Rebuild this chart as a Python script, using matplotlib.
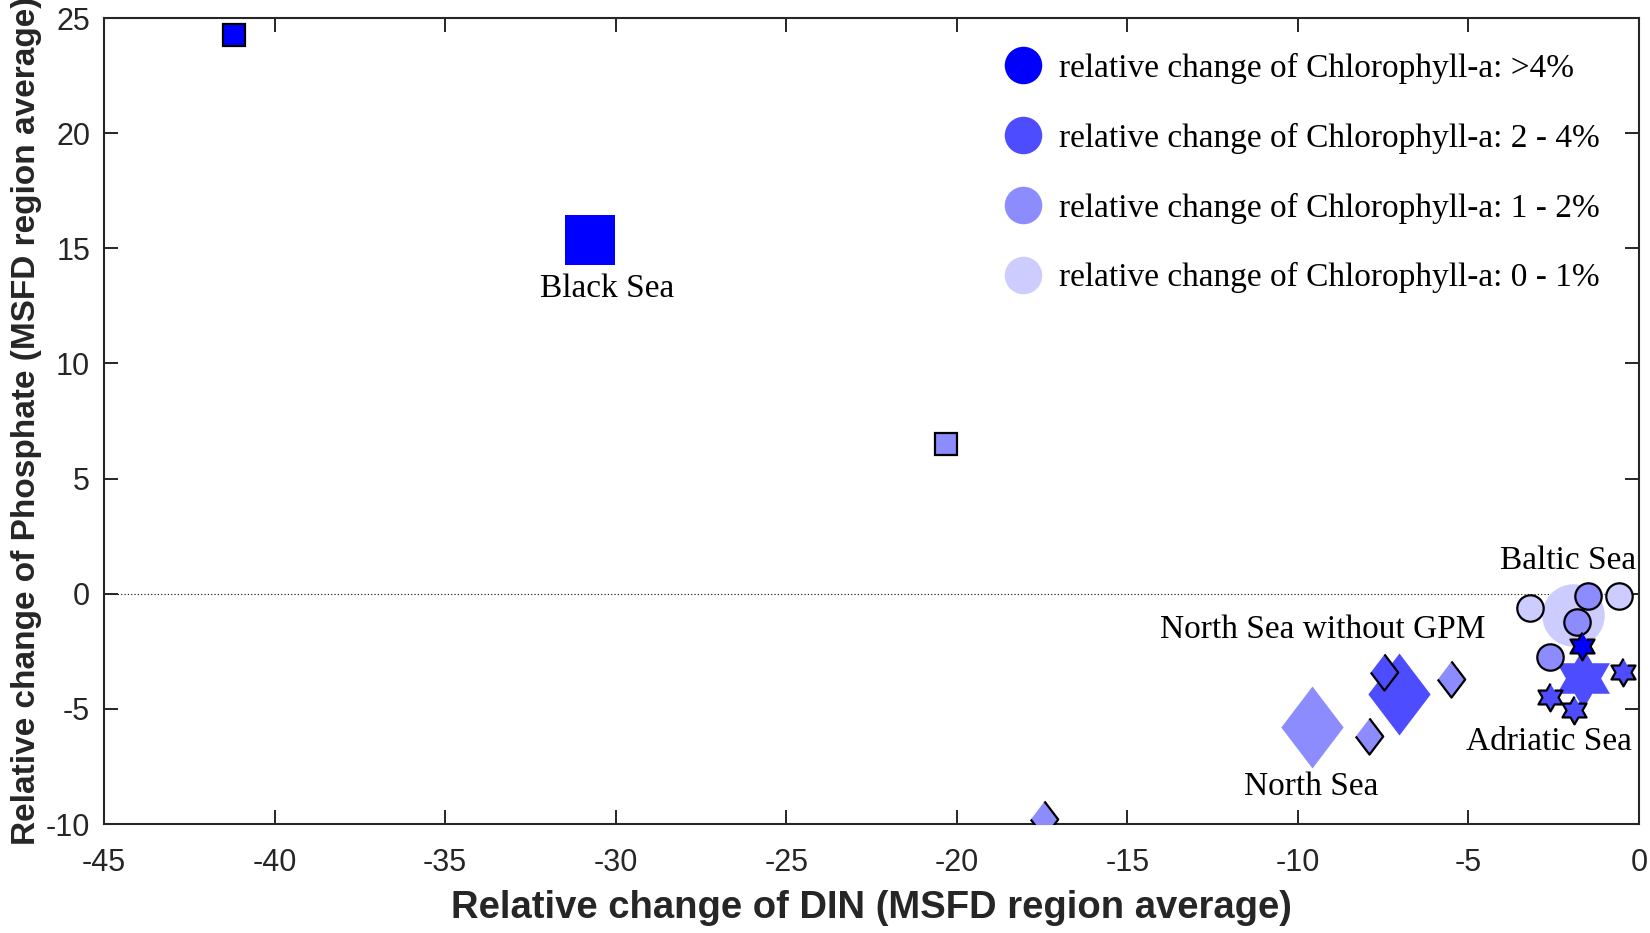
import matplotlib
matplotlib.use("Agg")
import matplotlib.pyplot as plt
from matplotlib.lines import Line2D
import numpy as np

# chlorophyll-a classes and their colours
chl_classes = ['>4%', '2 - 4%', '1 - 2%', '0 - 1%']
chl_colors = {'>4%': '#0000FF', '2 - 4%': '#4D4DFF', '1 - 2%': '#8C8CFF', '0 - 1%': '#CCCCFF'}

# MSFD region averages (large markers)
regions = ['Black Sea', 'North Sea', 'North Sea without GPM', 'Baltic Sea', 'Adriatic Sea']
region_din = [-30.75, -9.58, -7.02, -1.94, -1.65]
region_po4 = [15.37, -5.77, -4.35, -0.92, -3.67]
region_chl = ['>4%', '1 - 2%', '2 - 4%', '0 - 1%', '2 - 4%']

# sub-regions (small markers)
sub_region = ['Black Sea', 'Black Sea',
              'North Sea', 'North Sea', 'North Sea', 'North Sea',
              'Baltic Sea', 'Baltic Sea', 'Baltic Sea', 'Baltic Sea', 'Baltic Sea',
              'Adriatic Sea', 'Adriatic Sea', 'Adriatic Sea', 'Adriatic Sea']
sub_din = [-41.2, -20.3,
           -17.44, -7.91, -7.47, -5.51,
           -3.2, -1.49, -0.59, -1.81, -2.61,
           -1.66, -0.48, -2.61, -1.90]
sub_po4 = [24.27, 6.52,
           -9.78, -6.18, -3.38, -3.71,
           -0.60, -0.10, -0.10, -1.21, -2.73,
           -2.27, -3.38, -4.47, -5.07]
sub_chl = ['>4%', '1 - 2%',
           '1 - 2%', '1 - 2%', '2 - 4%', '1 - 2%',
           '0 - 1%', '1 - 2%', '0 - 1%', '1 - 2%', '1 - 2%',
           '>4%', '2 - 4%', '2 - 4%', '2 - 4%']

# custom marker shapes
ang = np.deg2rad(90 + 30 * np.arange(12))
rad = np.where(np.arange(12) % 2 == 0, 1.0, 1 / np.sqrt(3))
hexagram = list(zip(rad * np.cos(ang), rad * np.sin(ang)))
diamond = [(0, 1), (0.76, 0), (0, -1), (-0.76, 0)]

shape = {'Black Sea': 's', 'North Sea': diamond, 'North Sea without GPM': diamond,
         'Baltic Sea': 'o', 'Adriatic Sea': hexagram}
big_size = {'Black Sea': 36, 'North Sea': 59, 'North Sea without GPM': 59,
            'Baltic Sea': 45, 'Adriatic Sea': 44}
small_size = {'Black Sea': 16, 'North Sea': 26, 'Baltic Sea': 19, 'Adriatic Sea': 20}
label_offset = {'Black Sea': (12, -35), 'North Sea': (-1, -43),
                'North Sea without GPM': (-55, 46), 'Baltic Sea': (-3.5, 39),
                'Adriatic Sea': (-24, -46)}

plt.rcParams['font.family'] = ['Liberation Sans', 'DejaVu Sans']
plt.rcParams['axes.unicode_minus'] = False
fig = plt.figure(figsize=(16.5, 9.33), dpi=100)
ax = fig.add_axes([0.063, 0.1168, 0.9303, 0.8639])

ax.axhline(0, color='black', linestyle=(0, (1, 2)), linewidth=0.8, zorder=1)

for i, r in enumerate(regions):
    ax.plot(region_din[i], region_po4[i], linestyle='none', marker=shape[r],
            markersize=big_size[r], color=chl_colors[region_chl[i]],
            markeredgewidth=0, zorder=2)
    ax.annotate(r, (region_din[i], region_po4[i]), xytext=label_offset[r],
                textcoords='offset points', ha='center', va='center',
                fontsize=24, family=['Liberation Serif', 'DejaVu Serif'], zorder=5)

for i, r in enumerate(sub_region):
    ax.plot(sub_din[i], sub_po4[i], linestyle='none', marker=shape[r],
            markersize=small_size[r], markerfacecolor=chl_colors[sub_chl[i]],
            markeredgecolor='black', markeredgewidth=1.6, zorder=3)

handles = [Line2D([], [], linestyle='none', marker='o', markersize=27,
                  color=chl_colors[c], markeredgewidth=0) for c in chl_classes]
labels = ['relative change of Chlorophyll-a: ' + c for c in chl_classes]
ax.legend(handles, labels, loc='upper left', bbox_to_anchor=(0.5824, 0.9565),
          frameon=False, prop={'family': 'Liberation Serif', 'size': 24},
          labelspacing=1.16, handletextpad=0.33, handlelength=1.5,
          borderpad=0, borderaxespad=0)

ax.set_xlim(-45, 0)
ax.set_ylim(-10, 25)
ax.set_xticks(np.arange(-45, 1, 5))
ax.set_yticks(np.arange(-10, 26, 5))
ax.tick_params(direction='in', length=10, width=1.4, labelsize=22,
               top=True, right=True, colors='#262626')
ax.tick_params(axis='x', pad=17)
ax.tick_params(axis='y', pad=10)
for s in ax.spines.values():
    s.set_linewidth(1.5)
    s.set_color('#262626')

ax.set_xlabel('Relative change of DIN (MSFD region average)', fontsize=27.5,
              fontweight='bold', labelpad=9, color='#262626')
ax.set_ylabel('Relative change of Phosphate (MSFD region average)', fontsize=24,
              fontweight='bold', labelpad=3, color='#262626')

fig.savefig('out.png', dpi=100)
